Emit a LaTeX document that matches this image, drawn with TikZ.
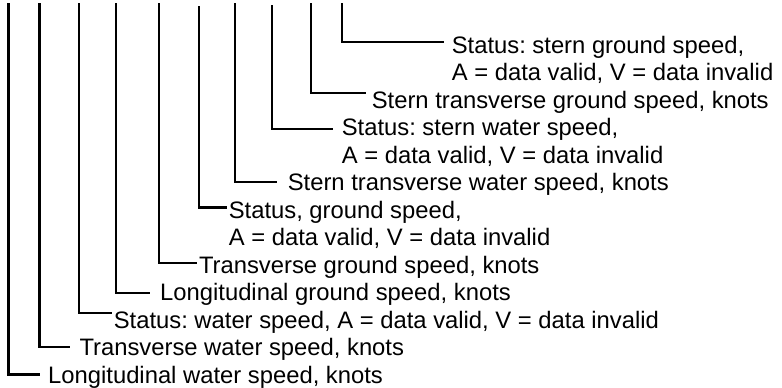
\documentclass[tikz,border=0pt]{standalone}
\usepackage{fontspec}
\setmainfont{Liberation Sans}
\frenchspacing
\begin{document}
\begin{tikzpicture}[x=1pt,y=1pt,
  lbl/.style={anchor=base west, inner sep=0pt, outer sep=0pt, align=left, font=\fontsize{23.8}{27.5}\selectfont\frenchspacing},
  lead/.style={line width=2.2pt, line join=miter}]
\useasboundingbox (0,0) rectangle (782,-388);
% text nodes (multi-line nodes are anchored at the baseline of their last line)
\node[lbl] (n1) at (48.2,-383) {Longitudinal water speed, knots};
\node[lbl] (n2) at (79.5,-355.5) {Transverse water speed, knots};
\node[lbl] (n3) at (113.8,-328) {Status: water speed, A = data valid, V = data invalid};
\node[lbl] (n4) at (160.2,-300.5) {Longitudinal ground speed, knots};
\node[lbl] (n5) at (199,-273) {Transverse ground speed, knots};
\node[lbl] (n6) at (228.8,-245.5) {Status, ground speed,\\A = data valid, V = data invalid};
\node[lbl] (n7) at (287.8,-190.5) {Stern transverse water speed, knots};
\node[lbl] (n8) at (341.8,-163) {Status: stern water speed,\\A = data valid, V = data invalid};
\node[lbl] (n9) at (371.8,-108) {Stern transverse ground speed, knots};
\node[lbl] (n10) at (451.8,-80.5) {Status: stern ground speed,\\A = data valid, V = data invalid};
% top ends of leaders
\coordinate (t1) at (8.5,-3.3);
\coordinate (t2) at (39.5,-3.3);
\coordinate (t3) at (79,-3.3);
\coordinate (t4) at (116,-3.3);
\coordinate (t5) at (158.7,-3.3);
\coordinate (t6) at (198.7,-6);
\coordinate (t7) at (235.3,-3.3);
\coordinate (t8) at (272.3,-5);
\coordinate (t9) at (310.7,-3.3);
\coordinate (t10) at (341.7,-3.3);
% leaders
\draw[lead] (t1) |- ([shift={(-8.2,8.5)}]n1.base west);
\draw[lead] (t2) |- ([shift={(-9.5,8.5)}]n2.base west);
\draw[lead] (t3) |- ([shift={(-2.3,15.3)}]n3.base west);
\draw[lead] (t4) |- ([shift={(-10.2,7.2)}]n4.base west);
\draw[lead] (t5) |- ([shift={(-2,10)}]n5.base west);
\draw[lead] (t6) |- ([shift={(-1.8,38)}]n6.base west);
\draw[lead] (t7) |- ([shift={(-10.8,8.8)}]n7.base west);
\draw[lead] (t8) |- ([shift={(-8.8,34.3)}]n8.base west);
\draw[lead] (t9) |- ([shift={(-5.8,15)}]n9.base west);
\draw[lead] (t10) |- ([shift={(-7.8,38.8)}]n10.base west);
\end{tikzpicture}
\end{document}
